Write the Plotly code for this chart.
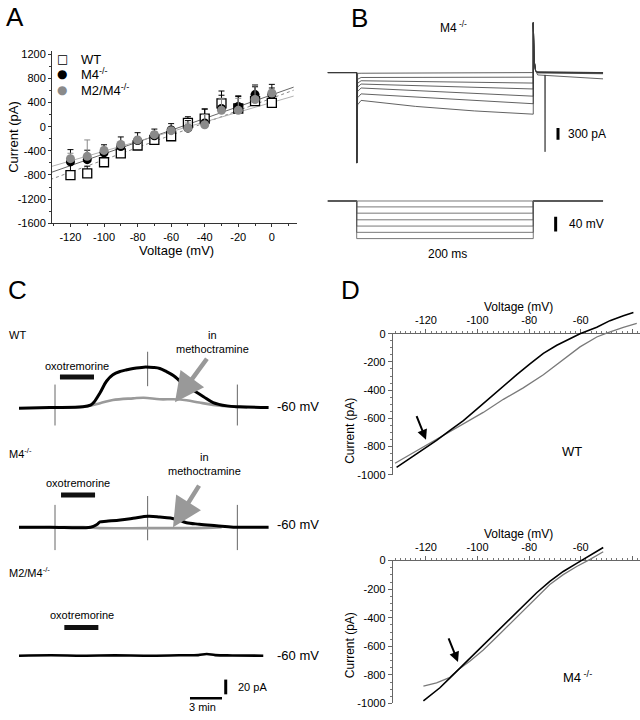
import plotly.graph_objects as go
import numpy as np

W, H = 640, 720
FONT = "Liberation Sans, Arial, sans-serif"
GRAY = "#8a8a8a"

# ---------------- Panel A data ----------------
a_voltage = [-120, -110, -100, -90, -80, -70, -60, -50, -40, -30, -20, -10, 0]
a_wt = [-801, -774, -589, -443, -312, -219, -159, 64, 134, 384, 300, 422, 395]
a_wt_err = [180, 120, 190, 150, 130, 110, 100, 100, 160, 206, 200, 268, 305]
a_m4 = [-584, -546, -432, -329, -231, -150, -56, -25, 60, 300, 335, 531, 531]
a_m4_err = [204, 156, 132, 159, 131, 110, 106, 125, 230, 220, 175, 129, 109]
a_m2m4 = [-530, -491, -393, -295, -219, -133, -66, -23, 31, 270, 270, 450, 557]
a_m2m4_err = [90, 271, 53, 35, 39, 53, 46, 83, 169, 200, 200, 240, 43]
a_fit_slope = [10.2, 9.77, 8.07]        # WT, M4, M2/M4 (pA/mV)
a_fit_intercept = [471, 527, 401]        # pA at 0 mV
a_xticks = [-120, -100, -80, -60, -40, -20, 0]
a_yticks = [-1600, -1200, -800, -400, 0, 400, 800, 1200]
a_legend_names = ["WT", "M4<sup>-/-</sup>", "M2/M4<sup>-/-</sup>"]

# ---------------- Panel B data ----------------
b_time = [-98, -0.1, 0, 3, 15, 200, 400, 599.9, 600, 603, 608, 615, 837]
b_onset_spike = -2300
b_offset_spike = 1267
b_onset = [-20, -170, -270, -370, -480, -640, -820]
b_start = [-17, -125, -208, -292, -392, -542, -708]
b_mid1 = [-8, -120, -225, -333, -458, -625, -860]
b_mid2 = [-3, -118, -245, -375, -533, -708, -975]
b_end = [0, -117, -267, -417, -600, -792, -1058]
b_tail_early = [15, 15, 10, 5, 0, -10, -60]
b_tail_late = [0, 0, -5, -10, -15, -30, -160]
b_artifact_time = [639, 640, 641]
b_artifact_peak = -2015
b_vtime = [-98, 0, 0, 600, 600, 837]
b_vhold = -20
b_vsteps = [-20, -36, -53, -71, -88, -105, -122]

# ---------------- Panel C data ----------------
c_wt_black_t = [0.0, 2.9, 6.0, 6.7, 7.0, 7.6, 8.2, 8.8, 9.5, 10.1, 10.7, 11.7, 12.6,
                13.2, 13.8, 14.5, 15.1, 15.7, 16.3, 17.3, 18.2, 19.5, 20.7, 23.4]
c_wt_black_i = [-0.9, 0.0, 0.9, 3.1, 6.7, 20.0, 35.6, 44.4, 48.9, 51.1, 52.9, 54.7, 54.2,
                52.9, 48.9, 43.1, 35.6, 28.9, 23.6, 14.7, 6.7, 2.2, 0.9, 0.0]
c_wt_gray_t = [3.2, 6.0, 7.6, 8.8, 10.7, 11.7, 13.2, 14.5, 15.7, 16.9, 18.2, 20.1, 21.4]
c_wt_gray_i = [0.0, 0.9, 5.8, 10.2, 12.4, 13.3, 11.1, 11.1, 9.8, 6.7, 3.6, 0.9, 0.0]
c_m4_black_t = [0.0, 2.9, 6.7, 7.3, 7.6, 8.2, 9.5, 10.7, 12.1, 13.2, 14.2, 15.1, 15.7,
                16.9, 18.5, 20.1, 23.4]
c_m4_black_i = [0.0, 0.0, 0.0, 3.6, 7.1, 8.0, 9.8, 12.0, 14.7, 13.8, 12.4, 9.0, 6.0,
                4.0, 2.0, 0.0, 0.0]
c_m4_gray_t = [0.0, 6.0, 7.6, 12.0, 15.0, 17.5, 19.0]
c_m4_gray_i = [-0.5, 0.0, -1.3, -1.3, -1.3, -0.9, 0.0]
c_m2m4_t = [0.0, 3.0, 6.0, 9.0, 12.0, 15.0, 16.8, 17.6, 18.4, 20.0, 22.9]
c_m2m4_i = [0.0, 0.5, 0.0, 0.4, 0.0, 0.5, 0.8, 2.2, 0.8, 0.3, 0.0]
c_marker_t = [3.375, 12.06, 20.47]
c_wt_marker_lo = [-24.4, 28.9, -24.4]
c_wt_marker_hi = [31.1, 75.6, 31.1]
c_m4_marker_lo = [-31.1, -17.8, -31.1]
c_m4_marker_hi = [30.2, 42.2, 30.2]
c_oxo_wt = [3.84, 7.03]
c_oxo_m4 = [3.94, 7.13]
c_oxo_m2m4 = [4.25, 7.44]

# ---------------- Panel D data ----------------
d_wt_black_v = [-131.4, -126.2, -121.0, -115.9, -110.7, -105.5, -100.3, -95.2, -90.0, -84.8,
                -79.7, -74.5, -69.3, -64.2, -60.3, -53.8, -48.7, -43.5, -39.6]
d_wt_black_i = [-948, -884, -814, -756, -686, -616, -535, -453, -372, -290,
                -214, -139, -82, -35, 0, 46, 93, 128, 151]
d_wt_gray_v = [-132.0, -121.0, -113.3, -105.5, -97.8, -90.0, -82.3, -74.5, -66.8, -60.3,
               -53.8, -50.0, -43.5, -38.3]
d_wt_gray_i = [-918, -802, -721, -639, -558, -465, -384, -291, -186, -93, -23, 5, 46, 74]
d_m4_black_v = [-121.0, -118.4, -114.6, -110.7, -107.5, -102.9, -97.8, -92.6, -87.4, -82.3,
                -77.1, -72.0, -66.8, -61.6, -56.4, -51.3]
d_m4_black_i = [-982, -947, -890, -821, -764, -684, -592, -500, -408, -317,
                -225, -145, -76, -19, 39, 92]
d_m4_gray_v = [-121.0, -115.9, -110.7, -107.5, -102.9, -97.8, -92.6, -87.4, -82.3, -77.1,
               -72.0, -66.8, -61.6, -56.4, -51.3]
d_m4_gray_i = [-879, -856, -817, -764, -702, -626, -535, -443, -351, -259, -167, -98, -41, 9, 62]
d_xticks = [-120, -100, -80, -60, -40]
d_yticks = [-1000, -800, -600, -400, -200, 0]


def dom_x(p0, p1):
    return [p0 / W, p1 / W]


def dom_y(top_px, bot_px):
    return [1 - bot_px / H, 1 - top_px / H]


def PX(px):
    return px / W


def PY(py):
    return 1 - py / H


def hidden_axis(domain, rng, anchor):
    return dict(domain=domain, range=rng, anchor=anchor, visible=False,
                showgrid=False, zeroline=False, fixedrange=True)


fig = go.Figure()

# ================= Panel A =================
fit_x = np.array([-132.0, 13.0])
fit_styles = [dict(color="#777777", width=0.9, dash="dot"),
              dict(color="#555555", width=0.9),
              dict(color="#a8a8a8", width=0.9)]
for s, b, st in zip(a_fit_slope, a_fit_intercept, fit_styles):
    fig.add_trace(go.Scatter(x=fit_x, y=s * fit_x + b, mode="lines", line=st,
                             showlegend=False, hoverinfo="skip", xaxis="x", yaxis="y"))

zeros = [0] * len(a_voltage)
fig.add_trace(go.Scatter(x=a_voltage, y=a_wt, mode="markers", name=a_legend_names[0],
                         marker=dict(symbol="square", size=9, color="white",
                                     line=dict(color="black", width=1.3)),
                         error_y=dict(type="data", array=a_wt_err, arrayminus=zeros,
                                      symmetric=False, color="black", thickness=1, width=3),
                         showlegend=False, xaxis="x", yaxis="y"))
fig.add_trace(go.Scatter(x=a_voltage, y=a_m4, mode="markers", name=a_legend_names[1],
                         marker=dict(symbol="circle", size=9, color="black"),
                         error_y=dict(type="data", array=a_m4_err, arrayminus=zeros,
                                      symmetric=False, color="black", thickness=1, width=3),
                         showlegend=False, xaxis="x", yaxis="y"))
fig.add_trace(go.Scatter(x=a_voltage, y=a_m2m4, mode="markers", name=a_legend_names[2],
                         marker=dict(symbol="circle", size=9, color=GRAY),
                         error_y=dict(type="data", array=a_m2m4_err, arrayminus=zeros,
                                      symmetric=False, color=GRAY, thickness=1, width=3),
                         showlegend=False, xaxis="x", yaxis="y"))

# ================= Panel B =================
for k in range(len(b_start)):
    yv = [0, 0, b_onset_spike, b_onset[k], b_start[k], b_mid1[k], b_mid2[k], b_end[k],
          b_offset_spike, 300, 40, b_tail_early[k], b_tail_late[k]]
    fig.add_trace(go.Scatter(x=b_time, y=yv, mode="lines",
                             line=dict(color="#3a3a3a", width=0.8),
                             showlegend=False, hoverinfo="skip", xaxis="x2", yaxis="y2"))
fig.add_trace(go.Scatter(x=b_artifact_time,
                         y=[b_tail_early[-1], b_artifact_peak, b_tail_early[-1]],
                         mode="lines", line=dict(color="#3a3a3a", width=0.8),
                         showlegend=False, hoverinfo="skip", xaxis="x2", yaxis="y2"))
# 300 pA scale bar
fig.add_trace(go.Scatter(x=[684, 684], y=[-1407, -1707], mode="lines",
                         line=dict(color="black", width=3),
                         showlegend=False, hoverinfo="skip", xaxis="x2", yaxis="y2"))
for lvl in b_vsteps:
    fig.add_trace(go.Scatter(x=b_vtime, y=[b_vhold, b_vhold, lvl, lvl, b_vhold, b_vhold],
                             mode="lines", line=dict(color="#555555", width=0.8),
                             showlegend=False, hoverinfo="skip", xaxis="x3", yaxis="y3"))
# 40 mV scale bar
fig.add_trace(go.Scatter(x=[676, 676], y=[-62.7, -102.7], mode="lines",
                         line=dict(color="black", width=3),
                         showlegend=False, hoverinfo="skip", xaxis="x3", yaxis="y3"))

# ================= Panel C =================
def vmarks(lo, hi):
    xs, ys = [], []
    for t, a, b in zip(c_marker_t, lo, hi):
        xs += [t, t, None]
        ys += [a, b, None]
    return xs, ys


# WT row
xs, ys = vmarks(c_wt_marker_lo, c_wt_marker_hi)
fig.add_trace(go.Scatter(x=xs, y=ys, mode="lines", line=dict(color="#666666", width=1),
                         showlegend=False, hoverinfo="skip", xaxis="x4", yaxis="y4"))
fig.add_trace(go.Scatter(x=c_wt_gray_t, y=c_wt_gray_i, mode="lines", line_shape="spline",
                         line=dict(color="#9a9a9a", width=2.6),
                         showlegend=False, hoverinfo="skip", xaxis="x4", yaxis="y4"))
fig.add_trace(go.Scatter(x=c_wt_black_t, y=c_wt_black_i, mode="lines", line_shape="spline",
                         line=dict(color="black", width=3),
                         showlegend=False, hoverinfo="skip", xaxis="x4", yaxis="y4"))
fig.add_trace(go.Scatter(x=c_oxo_wt, y=[41.3, 41.3], mode="lines",
                         line=dict(color="#111111", width=5),
                         showlegend=False, hoverinfo="skip", xaxis="x4", yaxis="y4"))
# M4 row
xs, ys = vmarks(c_m4_marker_lo, c_m4_marker_hi)
fig.add_trace(go.Scatter(x=xs, y=ys, mode="lines", line=dict(color="#666666", width=1),
                         showlegend=False, hoverinfo="skip", xaxis="x5", yaxis="y5"))
fig.add_trace(go.Scatter(x=c_m4_gray_t, y=c_m4_gray_i, mode="lines", line_shape="spline",
                         line=dict(color="#9a9a9a", width=2.6),
                         showlegend=False, hoverinfo="skip", xaxis="x5", yaxis="y5"))
fig.add_trace(go.Scatter(x=c_m4_black_t, y=c_m4_black_i, mode="lines", line_shape="spline",
                         line=dict(color="black", width=3),
                         showlegend=False, hoverinfo="skip", xaxis="x5", yaxis="y5"))
fig.add_trace(go.Scatter(x=c_oxo_m4, y=[43.6, 43.6], mode="lines",
                         line=dict(color="#111111", width=5),
                         showlegend=False, hoverinfo="skip", xaxis="x5", yaxis="y5"))
# M2/M4 row
fig.add_trace(go.Scatter(x=c_m2m4_t, y=c_m2m4_i, mode="lines", line_shape="spline",
                         line=dict(color="black", width=2.6),
                         showlegend=False, hoverinfo="skip", xaxis="x6", yaxis="y6"))
fig.add_trace(go.Scatter(x=c_oxo_m2m4, y=[38.3, 38.3], mode="lines",
                         line=dict(color="#111111", width=5),
                         showlegend=False, hoverinfo="skip", xaxis="x6", yaxis="y6"))
# scale bars (20 pA, 3 min)
fig.add_trace(go.Scatter(x=[19.38, 19.38], y=[-32.4, -52.4], mode="lines",
                         line=dict(color="black", width=3),
                         showlegend=False, hoverinfo="skip", xaxis="x6", yaxis="y6"))
fig.add_trace(go.Scatter(x=[16.03, 19.03], y=[-57.7, -57.7], mode="lines",
                         line=dict(color="black", width=2.5),
                         showlegend=False, hoverinfo="skip", xaxis="x6", yaxis="y6"))

# ================= Panel D =================
for ax in ["7", "9"]:
    fig.add_trace(go.Scatter(x=[], y=[], mode="lines", showlegend=False,
                             xaxis="x" + ax, yaxis="y" + ax))
fig.add_trace(go.Scatter(x=d_wt_gray_v, y=d_wt_gray_i, mode="lines",
                         line=dict(color="#7a7a7a", width=1.3),
                         showlegend=False, hoverinfo="skip", xaxis="x8", yaxis="y8"))
fig.add_trace(go.Scatter(x=d_wt_black_v, y=d_wt_black_i, mode="lines",
                         line=dict(color="black", width=1.6),
                         showlegend=False, hoverinfo="skip", xaxis="x8", yaxis="y8"))
fig.add_trace(go.Scatter(x=d_m4_gray_v, y=d_m4_gray_i, mode="lines",
                         line=dict(color="#7a7a7a", width=1.3),
                         showlegend=False, hoverinfo="skip", xaxis="x10", yaxis="y10"))
fig.add_trace(go.Scatter(x=d_m4_black_v, y=d_m4_black_i, mode="lines",
                         line=dict(color="black", width=1.6),
                         showlegend=False, hoverinfo="skip", xaxis="x10", yaxis="y10"))

# ---------------- axes ----------------
tickfont = dict(family=FONT, size=11, color="black")
a_x_rng = [-131, 15]
a_y_rng = [-1600, 1250]

d_x_rng = [-132.9, -132.9 + (640 - 392.7) / 2.58]
d_top_ppu = (476.7 - 333.3) / 1000.0
d_bot_ppu = (709.3 - 564.0) / 1000.0

c_x_rng = [(0 - 19) * 0.09375, (320 - 19) * 0.09375]


def c_yrng(base_px, top_px, bot_px, ppu=0.75):
    return [-(bot_px - base_px) / ppu, (base_px - top_px) / ppu]


b_x_rng = [(320 - 356.7) / 0.2943, (640 - 356.7) / 0.2943]

layout_axes = dict(
    xaxis=dict(domain=dom_x(52, 297), range=a_x_rng, anchor="y", showline=True,
               linecolor="#333", linewidth=1, ticks="outside", ticklen=3, tickcolor="#333",
               tickvals=a_xticks, ticktext=[str(v) for v in a_xticks], tickfont=tickfont,
               minor=dict(ticks="outside", ticklen=2, dtick=10, tick0=0, tickcolor="#333"),
               showgrid=False, zeroline=False, fixedrange=True),
    yaxis=dict(domain=dom_y(45.9, 221), range=a_y_rng, anchor="x", showline=True,
               linecolor="#333", linewidth=1, ticks="outside", ticklen=3, tickcolor="#333",
               tickvals=a_yticks, ticktext=[str(v) for v in a_yticks], tickfont=tickfont,
               minor=dict(ticks="outside", ticklen=2, dtick=200, tick0=0, tickcolor="#333"),
               showgrid=False, zeroline=False, fixedrange=True),
    xaxis2=hidden_axis(dom_x(320, 640), b_x_rng, "y2"),
    yaxis2=hidden_axis(dom_y(5, 168), [-(168 - 67.7) * 25, (67.7 - 5) * 25], "x2"),
    xaxis3=hidden_axis(dom_x(320, 640), b_x_rng, "y3"),
    yaxis3=hidden_axis(dom_y(190, 245), [-20 - (245 - 198.3) * 2.667, -20 + (198.3 - 190) * 2.667], "x3"),
    xaxis4=hidden_axis(dom_x(0, 320), c_x_rng, "y4"),
    yaxis4=hidden_axis(dom_y(335, 445), c_yrng(408.3, 335, 445), "x4"),
    xaxis5=hidden_axis(dom_x(0, 320), c_x_rng, "y5"),
    yaxis5=hidden_axis(dom_y(455, 565), c_yrng(530, 455, 565), "x5"),
    xaxis6=hidden_axis(dom_x(0, 320), c_x_rng, "y6"),
    yaxis6=hidden_axis(dom_y(595, 715), c_yrng(660.7, 595, 715), "x6"),
    xaxis8=hidden_axis(dom_x(392.7, 640), d_x_rng, "y8"),
    yaxis8=hidden_axis(dom_y(295, 476.7), [-1000, (333.3 - 295) / d_top_ppu], "x8"),
    xaxis10=hidden_axis(dom_x(392.7, 640), d_x_rng, "y10"),
    yaxis10=hidden_axis(dom_y(530, 709.3), [-1000, (564 - 530) / d_bot_ppu], "x10"),
)

for xa, ya, top, bot in [("7", "7", 333.3, 476.7), ("9", "9", 564.0, 709.3)]:
    layout_axes["xaxis" + xa] = dict(
        domain=dom_x(392.7, 640), range=d_x_rng, anchor="y" + ya, side="top",
        showline=True, linecolor="#666", linewidth=1, ticks="outside", ticklen=4,
        tickcolor="#666", tickvals=d_xticks, ticktext=[str(v) for v in d_xticks],
        tickfont=tickfont,
        minor=dict(ticks="outside", ticklen=2, dtick=2, tick0=0, tickcolor="#777"),
        showgrid=False, zeroline=False, fixedrange=True)
    layout_axes["yaxis" + ya] = dict(
        domain=dom_y(top, bot), range=[-1000, 0], anchor="x" + xa,
        showline=True, linecolor="#666", linewidth=1, ticks="outside", ticklen=4,
        tickcolor="#666", tickvals=d_yticks, ticktext=[str(v) for v in d_yticks],
        tickfont=tickfont,
        minor=dict(ticks="outside", ticklen=2, dtick=50, tick0=0, tickcolor="#777"),
        showgrid=False, zeroline=False, fixedrange=True)

# ---------------- annotations ----------------
ann = []


def text(s, px, py, size=11, xanchor="center", yanchor="middle", angle=0, color="black",
         family=FONT):
    ann.append(dict(text=s, x=PX(px), y=PY(py), xref="paper", yref="paper",
                    showarrow=False, xanchor=xanchor, yanchor=yanchor, textangle=angle,
                    font=dict(family=family, size=size, color=color)))


def arrow(hx, hy, tx, ty, color, width, size=1.0, head=2):
    ann.append(dict(text="", x=PX(hx), y=PY(hy), xref="paper", yref="paper",
                    ax=tx - hx, ay=ty - hy, axref="pixel", ayref="pixel",
                    showarrow=True, arrowhead=head, arrowsize=size, arrowwidth=width,
                    arrowcolor=color, standoff=0))


# panel letters
text("A", 4, 11, size=26, xanchor="left")
text("B", 349, 12, size=26, xanchor="left")
text("C", 6, 289, size=26, xanchor="left")
text("D", 339, 289, size=26, xanchor="left")

# Panel A titles and legend
text("Current (pA)", 14, 133, size=13, angle=-90)
text("Voltage (mV)", 176, 249, size=13)
legend_rows = [54, 69.5, 85]
SYM = "DejaVu Sans"
text("\u25a1", 62, legend_rows[0], size=12, color="black", family=SYM)
text("\u25cf", 62, legend_rows[1], size=12, color="black", family=SYM)
text("\u25cf", 62, legend_rows[2], size=12, color=GRAY, family=SYM)
for name, py in zip(a_legend_names, legend_rows):
    text(name, 79, py, size=13, xanchor="left")

# Panel B
text("M4<sup> -/-</sup>", 453, 21, size=12)
text("300 pA", 566, 130, size=12, xanchor="left")
text("40 mV", 567, 222, size=12, xanchor="left")
text("200 ms", 447, 252, size=12)

# Panel C
text("WT", 7, 335, size=11, xanchor="left")
text("oxotremorine", 77, 366, size=11)
text("in<br>methoctramine", 212, 342, size=11)
text("-60 mV", 275, 407, size=13, xanchor="left")
arrow(175, 403, 208, 358, "#999999", 4.5, size=1.3, head=2)

text("M4<sup>-/-</sup>", 7, 455, size=11, xanchor="left")
text("oxotremorine", 78, 485, size=11)
text("in<br>methoctramine", 204, 466, size=11)
text("-60 mV", 275, 527, size=13, xanchor="left")
arrow(173, 530, 200, 487, "#999999", 4.5, size=1.3, head=2)

text("M2/M4<sup>-/-</sup>", 7, 576, size=11, xanchor="left")
text("oxotremorine", 82, 619, size=11)
text("-60 mV", 275, 660, size=13, xanchor="left")
text("20 pA", 236, 693, size=11, xanchor="left")
text("3 min", 202, 713, size=11)

# Panel D
text("Voltage (mV)", 518, 306, size=12)
text("Current (pA)", 350, 432, size=12, angle=-90)
text("WT", 572, 453, size=13)
arrow(426, 441, 416, 416, "black", 2, size=1.0, head=2)

text("Voltage (mV)", 518, 537, size=12)
text("Current (pA)", 350, 650, size=12, angle=-90)
text("M4<sup> -/-</sup>", 577, 682, size=13)
arrow(458, 667, 448, 642, "black", 2, size=1.0, head=2)

fig.update_layout(
    width=W, height=H, autosize=False,
    margin=dict(l=0, r=0, t=0, b=0, pad=0),
    paper_bgcolor="white", plot_bgcolor="rgba(0,0,0,0)",
    font=dict(family=FONT, size=11, color="black"),
    showlegend=False,
    annotations=ann,
    **layout_axes,
)

fig.write_html(
    "out.html",
    config={"displayModeBar": False, "staticPlot": True},
    post_script="document.body.style.margin='0';document.body.style.padding='0';"
                "document.documentElement.style.overflow='hidden';",
)
